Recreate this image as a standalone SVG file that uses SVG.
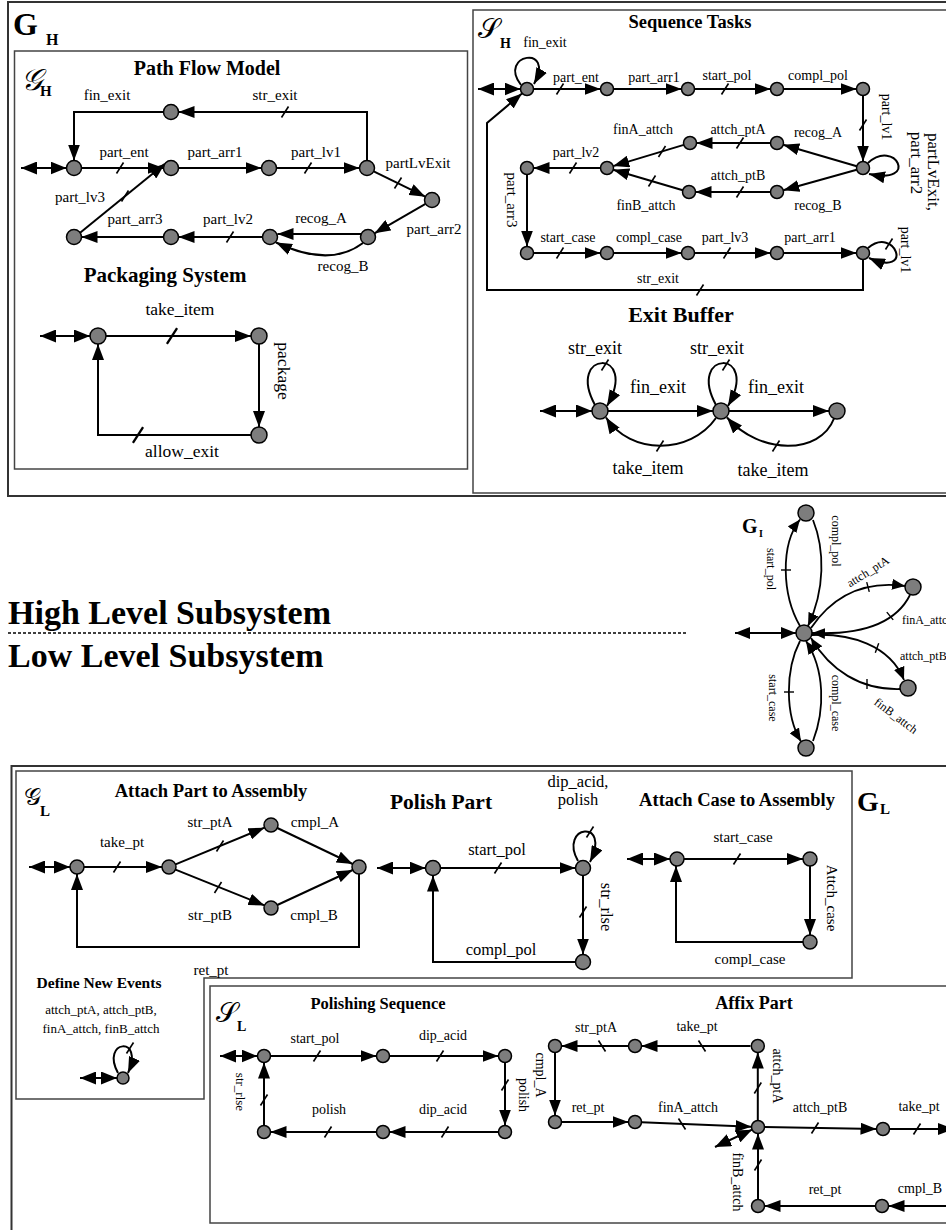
<svg xmlns="http://www.w3.org/2000/svg" width="946" height="1230" viewBox="0 0 946 1230">
<style>
text{font-family:"Liberation Serif","Times New Roman",serif;fill:#000}
.tt{font-weight:bold;text-anchor:middle}
.b{font-weight:bold}
.lb{text-anchor:middle}
.sc{font-family:"DejaVu Serif","Noto Sans",serif}
.n circle{fill:#7d7d7d;stroke:#000;stroke-width:1.5}
.e{fill:none;stroke:#000;stroke-width:2;marker-end:url(#ah)}
.es{fill:none;stroke:#000;stroke-width:1.8;marker-end:url(#as)}
.d{fill:none;stroke:#000;stroke-width:2;marker-start:url(#ad);marker-end:url(#ad)}
.ds{fill:none;stroke:#000;stroke-width:1.8;marker-start:url(#ads);marker-end:url(#ads)}
.fr{fill:none;stroke:#333;stroke-width:2}
.fi{fill:none;stroke:#444;stroke-width:1.5}
</style>
<defs>
<marker id="ah" markerUnits="userSpaceOnUse" viewBox="0 0 16 12" markerWidth="16" markerHeight="12" refX="16" refY="6" orient="auto"><path d="M0,0 L16,6 L0,12 z"/></marker>
<marker id="ad" markerUnits="userSpaceOnUse" viewBox="0 0 16 13" markerWidth="16" markerHeight="13" refX="16" refY="6.5" orient="auto-start-reverse"><path d="M0,0 L16,6.5 L0,13 z"/></marker>
<marker id="as" markerUnits="userSpaceOnUse" viewBox="0 0 13 11" markerWidth="13" markerHeight="11" refX="13" refY="5.5" orient="auto"><path d="M0,0 L13,5.5 L0,11 z"/></marker>
<marker id="ads" markerUnits="userSpaceOnUse" viewBox="0 0 15 12" markerWidth="15" markerHeight="12" refX="15" refY="6" orient="auto-start-reverse"><path d="M0,0 L15,6 L0,12 z"/></marker>
<path id="tk" d="M-3.5,5.5 L3.5,-5.5" stroke="#000" stroke-width="1.6"/>
<path id="tb" d="M-3.5,-5.5 L3.5,5.5" stroke="#000" stroke-width="1.6"/>
<path id="th" d="M-5,0 H5" stroke="#000" stroke-width="1.4"/>
</defs>
<rect width="946" height="1230" fill="#fff"/>

<!-- frames -->
<g id="frames">
<rect class="fr" x="8" y="2" width="950" height="494"/>
<rect class="fi" x="14.5" y="51" width="453" height="418"/>
<rect class="fi" x="473" y="10" width="480" height="483"/>
<rect class="fr" x="11.5" y="766" width="950" height="470"/>
<path class="fi" d="M16,771 H852 V978 H204 V1099 H16 Z"/>
<rect class="fi" x="210" y="986" width="750" height="237"/>
</g>

<!-- titles / labels of frames -->
<g id="frame-labels">
<text x="13" y="35" font-size="32" class="b">G</text><text x="46" y="45" font-size="16" class="b">H</text>
<text x="21" y="90" font-size="30" class="sc" font-style="italic">𝒢</text><text x="40" y="96" font-size="15" class="b">H</text>
<text x="207" y="75" font-size="20" class="tt">Path Flow Model</text>
<text x="165" y="282" font-size="21" class="tt">Packaging System</text>
<text x="478" y="38" font-size="28" class="sc">𝒮</text><text x="500" y="48" font-size="14" class="b">H</text>
<text x="690" y="28" font-size="18.5" class="tt">Sequence Tasks</text>
<text x="681" y="322" font-size="22" class="tt">Exit Buffer</text>
<text x="742" y="533" font-size="20" class="b">G</text><text x="759" y="537" font-size="10" class="b">I</text>
<text x="8" y="624" font-size="34" class="b">High Level Subsystem</text>
<line x1="8" y1="633" x2="686" y2="633" stroke="#000" stroke-width="1.5" stroke-dasharray="3,2"/>
<text x="8" y="667" font-size="34" class="b">Low Level Subsystem</text>
<text x="857" y="811" font-size="28" class="b">G</text><text x="880" y="814" font-size="15" class="b">L</text>
<text x="24" y="805" font-size="24" class="sc">𝒢</text><text x="40" y="816" font-size="15" class="b">L</text>
<text x="211" y="797" font-size="18.5" class="tt">Attach Part to Assembly</text>
<text x="441" y="809" font-size="21.5" class="tt">Polish Part</text>
<text x="737" y="806" font-size="18.5" class="tt">Attach Case to Assembly</text>
<text x="99" y="988" font-size="15.5" class="tt">Define New Events</text>
<text x="101" y="1014" font-size="13" class="lb">attch_ptA, attch_ptB,</text>
<text x="101" y="1033" font-size="13" class="lb">finA_attch, finB_attch</text>
<text x="216" y="1022" font-size="28" class="sc">𝒮</text><text x="237" y="1031" font-size="14" class="b">L</text>
<text x="378" y="1009" font-size="16.5" class="tt">Polishing Sequence</text>
<text x="754" y="1009" font-size="18" class="tt">Affix Part</text>
</g>

<!-- connectors -->
<g id="connectors">
<!-- Path Flow Model -->
<path class="d" d="M21,168 H66.5"/>
<path class="e" d="M81.5,168 H163.5"/>
<path class="e" d="M178.5,168 H261.5"/>
<path class="e" d="M276.5,168 H359.5"/>
<path class="e" d="M373.7,171.3 L425.3,196.7"/>
<path class="e" d="M425.5,203.8 L374.5,233.3"/>
<path class="e" d="M361,234 H277.5"/>
<path class="e" d="M363,243 Q330,268 276,242.5"/>
<path class="e" d="M262.5,237 H178.5"/>
<path class="e" d="M163.5,237 H81.5"/>
<path class="e" d="M80.1,232.7 L164.9,163.7"/>
<path class="e" d="M367,160.5 V112 H178.5"/>
<path class="e" d="M163.5,112 H74 V160.5"/>
<use href="#tk" x="120" y="168"/><use href="#tk" x="308" y="168"/><use href="#tk" x="398" y="183"/>
<use href="#tk" x="230" y="237"/><use href="#tk" x="125" y="196"/><use href="#tk" x="285" y="112"/>
<g font-size="15" class="lb">
<text x="107" y="100">fin_exit</text><text x="275" y="100">str_exit</text>
<text x="124" y="157">part_ent</text><text x="215" y="157">part_arr1</text><text x="316" y="157">part_lv1</text>
<text x="418" y="168">partLvExit</text><text x="80" y="202">part_lv3</text><text x="135" y="224">part_arr3</text>
<text x="228" y="224">part_lv2</text><text x="321" y="223">recog_A</text><text x="434" y="234">part_arr2</text>
<text x="343" y="271">recog_B</text>
</g>
<!-- Packaging System -->
<path class="d" d="M40,336 H90"/>
<path class="e" d="M106,336 H251"/>
<path class="e" d="M259,344 V427"/>
<path class="e" d="M251,435 H98 V344"/>
<use href="#tk" transform="translate(172,336) scale(1.45)"/><use href="#tk" transform="translate(138,435) scale(1.45)"/>
<g font-size="17.5" class="lb">
<text x="180" y="315">take_item</text><text x="182" y="457">allow_exit</text>
<text transform="translate(278,371) rotate(90)">package</text>
</g>
<!-- Sequence Tasks -->
<path class="d" d="M478,89 H520.5"/>
<path class="e" d="M521,85 C497,54 556,44 534,84"/>
<path class="e" d="M533.5,89 H600.5"/>
<path class="e" d="M613.5,89 H681.5"/>
<path class="e" d="M694.5,89 H770.5"/>
<path class="e" d="M783.5,89 H856.5"/>
<path class="e" d="M863,95.5 V161.5"/>
<path class="e" d="M868,163 C895,138 920,185 869,174"/>
<path class="e" d="M856.8,166.2 L783.2,144.8"/>
<path class="e" d="M770.5,143 H696.5"/>
<path class="e" d="M683.8,144.9 L613.2,166.1"/>
<path class="e" d="M856.7,169.7 L783.3,190.3"/>
<path class="e" d="M770.5,192 H695.5"/>
<path class="e" d="M682.8,190.2 L613.2,169.8"/>
<path class="e" d="M600.5,168 H533.5"/>
<path class="e" d="M527,174.5 V246.5"/>
<path class="e" d="M533.5,253 H600.5"/>
<path class="e" d="M613.5,253 H681.5"/>
<path class="e" d="M694.5,253 H770.5"/>
<path class="e" d="M783.5,253 H856.5"/>
<path class="e" d="M868,248 C895,225 915,278 869,258"/>
<path class="e" d="M863,259.5 V290 H487 V123 L522,93.5"/>
<use href="#tk" x="560" y="89"/><use href="#tk" x="725" y="89"/><use href="#tk" x="863" y="125"/>
<use href="#tk" x="740" y="143"/><use href="#tk" x="662" y="151.5"/><use href="#tk" x="740" y="192"/>
<use href="#tk" x="652" y="181"/><use href="#tk" x="573" y="168"/><use href="#tk" x="560" y="253"/>
<use href="#tk" x="727" y="253"/><use href="#tk" x="889" y="244"/><use href="#tk" x="700" y="290"/>
<g font-size="14" class="lb">
<text x="545" y="47">fin_exit</text><text x="576" y="82">part_ent</text><text x="654" y="82">part_arr1</text>
<text x="727" y="80">start_pol</text><text x="818" y="80">compl_pol</text>
<text transform="translate(882,117) rotate(90)">part_lv1</text>
<text x="818" y="137">recog_A</text><text x="738" y="134">attch_ptA</text><text x="643" y="134">finA_attch</text>
<text x="576" y="157">part_lv2</text><text x="738" y="180">attch_ptB</text><text x="646" y="210">finB_attch</text>
<text x="818" y="210">recog_B</text>
<text transform="translate(506.5,200) rotate(90)" font-size="15">part_arr3</text>
<text x="568" y="242">start_case</text><text x="649" y="242">compl_case</text><text x="725" y="242">part_lv3</text>
<text x="810" y="242">part_arr1</text>
<text transform="translate(900.5,250) rotate(90)">part_lv1</text>
<text x="658" y="283">str_exit</text>
<text transform="translate(928,172) rotate(90)" font-size="17">partLvExit,</text>
<text transform="translate(911,163) rotate(90)" font-size="17">part_arr2</text>
</g>
<!-- Exit Buffer -->
<path class="d" d="M540,411 H592"/>
<path class="e" d="M595,405 C565,350 640,348 607,406"/>
<path class="e" d="M608,411 H713"/>
<path class="e" d="M716,405 C686,350 761,348 728,406"/>
<path class="e" d="M729,411 H829"/>
<path class="e" d="M716,418 C690,455 630,455 606,417.5"/>
<path class="e" d="M834,418.5 C820,455 760,455 727,417.5"/>
<use href="#tk" x="605" y="365"/><use href="#tk" x="726" y="365"/><use href="#tk" x="660" y="446"/><use href="#tk" x="776" y="446"/>
<g font-size="18" class="lb">
<text x="595" y="354">str_exit</text><text x="717" y="354">str_exit</text>
<text x="658" y="393">fin_exit</text><text x="776" y="393">fin_exit</text>
<text x="648" y="474">take_item</text><text x="773" y="476">take_item</text>
</g>
<!-- G_I -->
<path class="ds" d="M735,633 H796"/>
<path class="es" d="M800,626 C782,595 780,545 800,519.5"/>
<path class="es" d="M813,520 C825,550 825,590 808,626"/>
<path class="es" d="M811,628 C830,600 860,580 905,586"/>
<path class="es" d="M910,595 C895,625 860,635 812,633"/>
<path class="es" d="M812,635 C850,633 890,645 904,680"/>
<path class="es" d="M900,689 C860,690 830,670 811,638"/>
<path class="es" d="M800,641 C785,670 785,715 801,741.5"/>
<path class="es" d="M813,741 C825,710 825,670 806,641"/>
<use href="#th" x="786" y="570"/><use href="#th" transform="translate(868,587) rotate(75)"/>
<use href="#th" transform="translate(890,616) rotate(50)"/><use href="#th" transform="translate(877,648) rotate(110)"/>
<use href="#th" transform="translate(867,684) rotate(90)"/><use href="#th" x="789" y="692"/>
<g font-size="12">
<text class="lb" transform="translate(766.6,569) rotate(90)">start_pol</text>
<text class="lb" transform="translate(831.6,541) rotate(90)">compl_pol</text>
<text class="lb" transform="translate(768.6,698) rotate(90)">start_case</text>
<text class="lb" transform="translate(831.6,703) rotate(90)">compl_case</text>
<text class="lb" transform="translate(870,575) rotate(-32)">attch_ptA</text>
<text x="902" y="624">finA_attch</text>
<text x="900" y="660">attch_ptB</text>
<text class="lb" transform="translate(893.6,719) rotate(37)">finB_attch</text>
</g>
<!-- Attach Part to Assembly -->
<path class="d" d="M29,867 H70"/>
<path class="e" d="M84,867 H162"/>
<path class="e" d="M175.5,864.3 L264.5,827.7"/>
<path class="e" d="M175.5,869.6 L264.5,905.4"/>
<path class="e" d="M277.3,828 L352.7,864"/>
<path class="e" d="M277.3,905 L352.7,870"/>
<path class="e" d="M359,874 V947 H77 V874"/>
<use href="#tk" x="117" y="867"/><use href="#tk" x="220" y="846"/><use href="#tk" x="218" y="887.5"/>
<g font-size="15" class="lb">
<text x="122" y="847">take_pt</text><text x="210" y="827">str_ptA</text><text x="210" y="920">str_ptB</text>
<text x="315" y="827">cmpl_A</text><text x="314" y="920">cmpl_B</text><text x="211" y="975">ret_pt</text>
</g>
<!-- Polish Part -->
<path class="d" d="M377,868 H425.5"/>
<path class="e" d="M440.5,868 H575.5"/>
<path class="e" d="M578,861 C558,825 612,818 590,862"/>
<path class="e" d="M583,875.5 V954.5"/>
<path class="e" d="M575.5,962 H433 V875.5"/>
<use href="#tk" x="498" y="868"/><use href="#tk" x="590" y="832"/><use href="#tk" x="583" y="912"/>
<g font-size="16.5" class="lb">
<text x="578" y="787">dip_acid,</text><text x="578" y="805">polish</text>
<text x="497" y="855">start_pol</text><text x="501" y="955">compl_pol</text>
<text transform="translate(601,907) rotate(90)">str_rlse</text>
</g>
<!-- Attach Case to Assembly -->
<path class="d" d="M627,859 H670"/>
<path class="e" d="M684,859 H803"/>
<path class="e" d="M810,866 V935"/>
<path class="e" d="M803,942 H676 V866"/>
<use href="#tk" x="737" y="859"/>
<g font-size="15" class="lb">
<text x="743" y="842">start_case</text><text x="750" y="964">compl_case</text>
<text transform="translate(827,898) rotate(90)">Attch_case</text>
</g>
<!-- Define New Events -->
<path class="d" d="M80,1078 H117"/>
<path class="e" d="M118,1073 C100,1040 145,1035 128,1073"/>
<use href="#tk" x="130" y="1048"/>
<!-- Polishing Sequence -->
<path class="d" d="M220,1056 H257.5"/>
<path class="e" d="M270.5,1056 H376.5"/>
<path class="e" d="M389.5,1056 H498.5"/>
<path class="e" d="M505,1062.5 V1125.5"/>
<path class="e" d="M498.5,1132 H389.5"/>
<path class="e" d="M376.5,1132 H270.5"/>
<path class="e" d="M264,1125.5 V1062.5"/>
<use href="#tk" x="317" y="1056"/><use href="#tk" x="440" y="1056"/><use href="#tk" x="505" y="1085"/>
<use href="#tk" x="445" y="1132"/><use href="#tk" x="328" y="1132"/><use href="#tk" x="264" y="1100"/>
<g font-size="14" class="lb">
<text x="315" y="1043">start_pol</text><text x="443" y="1040">dip_acid</text>
<text x="443" y="1114">dip_acid</text><text x="329" y="1114">polish</text>
<text transform="translate(518.5,1095) rotate(90)">polish</text>
<text transform="translate(235.5,1092) rotate(90)" font-size="13">str_rlse</text>
</g>
<!-- Affix Part -->
<path class="e" d="M750.5,1046 H641.5"/>
<path class="e" d="M628.5,1046 H561.5"/>
<path class="e" d="M555,1052.5 V1115.5"/>
<path class="e" d="M561.5,1122 H628.5"/>
<path class="e" d="M641.5,1122.3 L751.5,1126.7"/>
<path class="e" d="M757.8,1120.5 V1052.5"/>
<path class="e" d="M764.5,1127.1 L876.5,1128.9"/>
<path class="e" d="M889.5,1129 H954"/>
<path class="e" d="M965,1206 H888.5"/>
<path class="e" d="M875.5,1206 H764.5"/>
<path class="e" d="M758,1199.5 V1133.5"/>
<path class="d" d="M715,1147 L752.1,1129.7"/>
<use href="#tb" x="702" y="1046"/><use href="#tb" x="602" y="1046"/><use href="#tb" x="682" y="1124"/>
<use href="#tk" x="757.8" y="1088"/><use href="#tk" x="815" y="1128"/><use href="#tk" x="917" y="1129"/><use href="#tk" x="758" y="1165"/>
<g font-size="14" class="lb">
<text x="697" y="1031">take_pt</text><text x="596" y="1032">str_ptA</text>
<text transform="translate(536,1075) rotate(90)">cmpl_A</text>
<text x="588" y="1112">ret_pt</text><text x="688" y="1112">finA_attch</text>
<text transform="translate(773,1076) rotate(90)">attch_ptA</text>
<text x="820" y="1112">attch_ptB</text><text x="919" y="1111">take_pt</text>
<text transform="translate(733,1182) rotate(90)">finB_attch</text>
<text x="825" y="1194">ret_pt</text><text x="920" y="1193">cmpl_B</text>
</g>
</g>

<!-- nodes -->
<g id="nodes">
<g class="n" id="pfm0"><circle cx="74" cy="168" r="7.5"/></g>
<g class="n" id="pfm1"><circle cx="171" cy="168" r="7.5"/></g>
<g class="n" id="pfm2"><circle cx="269" cy="168" r="7.5"/></g>
<g class="n" id="pfm3"><circle cx="367" cy="168" r="7.5"/></g>
<g class="n" id="pfm4"><circle cx="432" cy="200" r="7.5"/></g>
<g class="n" id="pfm5"><circle cx="368" cy="237" r="7.5"/></g>
<g class="n" id="pfm6"><circle cx="270" cy="237" r="7.5"/></g>
<g class="n" id="pfm7"><circle cx="171" cy="237" r="7.5"/></g>
<g class="n" id="pfm8"><circle cx="74" cy="237" r="7.5"/></g>
<g class="n" id="pfm9"><circle cx="171" cy="112" r="7.5"/></g>
<g class="n" id="pk0"><circle cx="98" cy="336" r="8"/></g>
<g class="n" id="pk1"><circle cx="259" cy="336" r="8"/></g>
<g class="n" id="pk2"><circle cx="259" cy="435" r="8"/></g>
<g class="n" id="sq0"><circle cx="527" cy="89" r="6.5"/></g>
<g class="n" id="sq1"><circle cx="607" cy="89" r="6.5"/></g>
<g class="n" id="sq2"><circle cx="688" cy="89" r="6.5"/></g>
<g class="n" id="sq3"><circle cx="777" cy="89" r="6.5"/></g>
<g class="n" id="sq4"><circle cx="863" cy="89" r="6.5"/></g>
<g class="n" id="sq5"><circle cx="863" cy="168" r="6.5"/></g>
<g class="n" id="sq6"><circle cx="777" cy="143" r="6.5"/></g>
<g class="n" id="sq7"><circle cx="690" cy="143" r="6.5"/></g>
<g class="n" id="sq8"><circle cx="607" cy="168" r="6.5"/></g>
<g class="n" id="sq9"><circle cx="777" cy="192" r="6.5"/></g>
<g class="n" id="sq10"><circle cx="689" cy="192" r="6.5"/></g>
<g class="n" id="sq11"><circle cx="527" cy="168" r="6.5"/></g>
<g class="n" id="sq12"><circle cx="527" cy="253" r="6.5"/></g>
<g class="n" id="sq13"><circle cx="607" cy="253" r="6.5"/></g>
<g class="n" id="sq14"><circle cx="688" cy="253" r="6.5"/></g>
<g class="n" id="sq15"><circle cx="777" cy="253" r="6.5"/></g>
<g class="n" id="sq16"><circle cx="863" cy="253" r="6.5"/></g>
<g class="n" id="eb0"><circle cx="600" cy="411" r="8"/></g>
<g class="n" id="eb1"><circle cx="721" cy="411" r="8"/></g>
<g class="n" id="eb2"><circle cx="837" cy="411" r="8"/></g>
<g class="n" id="gi_c"><circle cx="804" cy="633" r="8"/></g>
<g class="n" id="gi_t"><circle cx="806" cy="513" r="8"/></g>
<g class="n" id="gi_a"><circle cx="913" cy="587" r="8"/></g>
<g class="n" id="gi_b"><circle cx="908" cy="688" r="8"/></g>
<g class="n" id="gi_d"><circle cx="806" cy="748" r="8"/></g>
<g class="n" id="ap0"><circle cx="77" cy="867" r="7"/></g>
<g class="n" id="ap1"><circle cx="169" cy="867" r="7"/></g>
<g class="n" id="ap2"><circle cx="271" cy="825" r="7"/></g>
<g class="n" id="ap3"><circle cx="271" cy="908" r="7"/></g>
<g class="n" id="ap4"><circle cx="359" cy="867" r="7"/></g>
<g class="n" id="pp0"><circle cx="433" cy="868" r="7.5"/></g>
<g class="n" id="pp1"><circle cx="583" cy="868" r="7.5"/></g>
<g class="n" id="pp2"><circle cx="583" cy="962" r="7.5"/></g>
<g class="n" id="ac0"><circle cx="677" cy="859" r="7"/></g>
<g class="n" id="ac1"><circle cx="810" cy="859" r="7"/></g>
<g class="n" id="ac2"><circle cx="810" cy="942" r="7"/></g>
<g class="n" id="dn0"><circle cx="123" cy="1078" r="6"/></g>
<g class="n" id="ps0"><circle cx="264" cy="1056" r="6.5"/></g>
<g class="n" id="ps1"><circle cx="383" cy="1056" r="6.5"/></g>
<g class="n" id="ps2"><circle cx="505" cy="1056" r="6.5"/></g>
<g class="n" id="ps3"><circle cx="505" cy="1132" r="6.5"/></g>
<g class="n" id="ps4"><circle cx="383" cy="1132" r="6.5"/></g>
<g class="n" id="ps5"><circle cx="264" cy="1132" r="6.5"/></g>
<g class="n" id="af0"><circle cx="555" cy="1046" r="6.5"/></g>
<g class="n" id="af1"><circle cx="635" cy="1046" r="6.5"/></g>
<g class="n" id="af2"><circle cx="757.8" cy="1046" r="6.5"/></g>
<g class="n" id="af3"><circle cx="555" cy="1122" r="6.5"/></g>
<g class="n" id="af4"><circle cx="635" cy="1122" r="6.5"/></g>
<g class="n" id="af_h"><circle cx="758" cy="1127" r="6.5"/></g>
<g class="n" id="af5"><circle cx="883" cy="1129" r="6.5"/></g>
<g class="n" id="af6"><circle cx="758" cy="1206" r="6.5"/></g>
<g class="n" id="af7"><circle cx="882" cy="1206" r="6.5"/></g>
</g>
</svg>
